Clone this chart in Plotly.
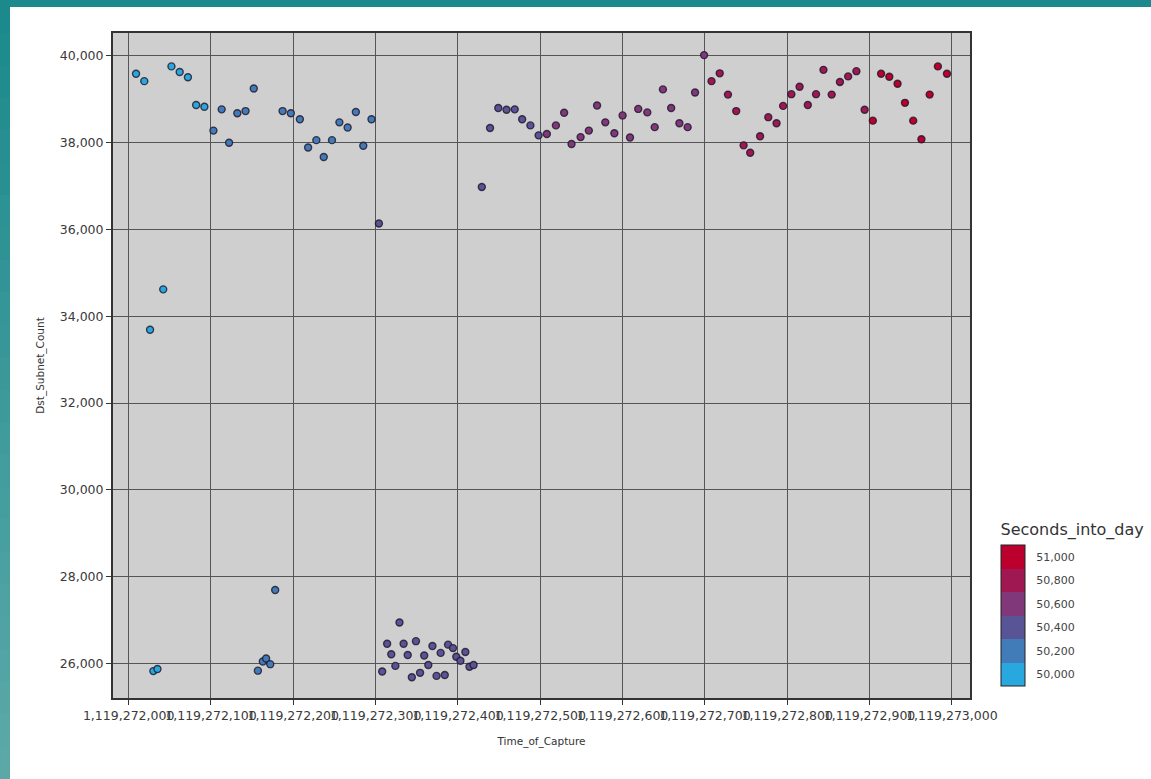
import plotly.graph_objects as go

# ---------------- data ----------------
time_of_capture = [
    1119272009, 1119272019, 1119272026, 1119272030, 1119272035, 1119272042, 1119272052, 1119272062,
    1119272072, 1119272082, 1119272092, 1119272103, 1119272113, 1119272122, 1119272132, 1119272142,
    1119272152, 1119272157, 1119272163, 1119272167, 1119272172, 1119272178, 1119272187, 1119272197,
    1119272208, 1119272218, 1119272228, 1119272237, 1119272247, 1119272256, 1119272266, 1119272276,
    1119272285, 1119272295, 1119272304, 1119272308, 1119272314, 1119272319, 1119272324, 1119272329,
    1119272334, 1119272339, 1119272344, 1119272349, 1119272354, 1119272359, 1119272364, 1119272369,
    1119272374, 1119272379, 1119272384, 1119272388, 1119272394, 1119272398, 1119272403, 1119272409,
    1119272414, 1119272419, 1119272429, 1119272439, 1119272449, 1119272459, 1119272469, 1119272478,
    1119272488, 1119272498, 1119272508, 1119272519, 1119272529, 1119272538, 1119272549, 1119272559,
    1119272569, 1119272579, 1119272590, 1119272600, 1119272609, 1119272619, 1119272630, 1119272639,
    1119272649, 1119272659, 1119272669, 1119272679, 1119272688, 1119272699, 1119272708, 1119272718,
    1119272728, 1119272738, 1119272747, 1119272755, 1119272767, 1119272777, 1119272787, 1119272795,
    1119272805, 1119272815, 1119272825, 1119272835, 1119272844, 1119272854, 1119272864, 1119272874,
    1119272884, 1119272894, 1119272904, 1119272914, 1119272924, 1119272934, 1119272943, 1119272953,
    1119272963, 1119272973, 1119272983, 1119272994,
]

dst_subnet_count = [
    39590, 39420, 33690, 25820, 25870, 34620, 39760, 39630,
    39510, 38870, 38830, 38280, 38770, 38000, 38680, 38730,
    39250, 25830, 26040, 26110, 25980, 27690, 38730, 38680,
    38540, 37890, 38060, 37670, 38060, 38470, 38350, 38710,
    37930, 38540, 36140, 25810, 26450, 26210, 25940, 26940,
    26450, 26190, 25680, 26510, 25780, 26180, 25960, 26400,
    25710, 26240, 25730, 26430, 26350, 26150, 26060, 26260,
    25920, 25960, 36980, 38340, 38800, 38760, 38770, 38540,
    38400, 38170, 38200, 38400, 38690, 37970, 38130, 38280,
    38860, 38470, 38220, 38630, 38120, 38780, 38700, 38360,
    39230, 38800, 38450, 38360, 39160, 40020, 39420, 39600,
    39110, 38730, 37940, 37770, 38150, 38590, 38450, 38850,
    39120, 39290, 38870, 39120, 39680, 39110, 39400, 39530,
    39650, 38760, 38510, 39590, 39520, 39360, 38920, 38510,
    38080, 39110, 39760, 39590,
]

seconds_into_day = [
    50009, 50019, 50026, 50030, 50035, 50042, 50052, 50062,
    50072, 50082, 50092, 50103, 50113, 50122, 50132, 50142,
    50152, 50157, 50163, 50167, 50172, 50178, 50187, 50197,
    50208, 50218, 50228, 50237, 50247, 50256, 50266, 50276,
    50285, 50295, 50304, 50308, 50314, 50319, 50324, 50329,
    50334, 50339, 50344, 50349, 50354, 50359, 50364, 50369,
    50374, 50379, 50384, 50388, 50394, 50398, 50403, 50409,
    50414, 50419, 50429, 50439, 50449, 50459, 50469, 50478,
    50488, 50498, 50508, 50519, 50529, 50538, 50549, 50559,
    50569, 50579, 50590, 50600, 50609, 50619, 50630, 50639,
    50649, 50659, 50669, 50679, 50688, 50699, 50708, 50718,
    50728, 50738, 50747, 50755, 50767, 50777, 50787, 50795,
    50805, 50815, 50825, 50835, 50844, 50854, 50864, 50874,
    50884, 50894, 50904, 50914, 50924, 50934, 50943, 50953,
    50963, 50973, 50983, 50994,
]

x_tick_values = [1119272000 + 100 * i for i in range(11)]
y_tick_values = [26000, 28000, 30000, 32000, 34000, 36000, 38000, 40000]
legend_tick_values = [50000, 50200, 50400, 50600, 50800, 51000]
legend_tick_text = ["50,000", "50,200", "50,400", "50,600", "50,800", "51,000"]

# ---------------- styling ----------------
bin_colors = [
    "rgb(40,168,222)",
    "rgb(66,124,184)",
    "rgb(88,84,150)",
    "rgb(128,56,122)",
    "rgb(160,24,82)",
    "rgb(188,0,46)",
]
n = len(bin_colors)
colorscale = []
for i, c in enumerate(bin_colors):
    colorscale.append([i / n, c])
    colorscale.append([(i + 1) / n, c])

W, H = 1151, 779
L, R, T, B = 113, 181, 33, 81
pw, ph = W - L - R, H - T - B

fig = go.Figure()
fig.add_trace(go.Scatter(
    x=time_of_capture,
    y=dst_subnet_count,
    mode="markers",
    marker=dict(
        size=7,
        color=seconds_into_day,
        colorscale=colorscale,
        cmin=49900,
        cmax=51100,
        line=dict(width=1.4, color="rgba(30,20,40,0.8)"),
        colorbar=dict(
            title=dict(text="Seconds_into_day", side="top",
                       font=dict(family="DejaVu Sans", size=16, color="#333")),
            tickvals=legend_tick_values,
            ticktext=legend_tick_text,
            ticks="outside", ticklen=9, tickcolor="rgba(0,0,0,0)",
            tickfont=dict(family="DejaVu Sans", size=11, color="#444"),
            thickness=24, thicknessmode="pixels",
            len=166, lenmode="pixels",
            x=(1001 - L) / pw, xanchor="left",
            y=(H - B - 686) / ph, yanchor="bottom",
            xpad=0, ypad=0,
            outlinecolor="#222", outlinewidth=1,
            bgcolor="rgba(0,0,0,0)",
        ),
    ),
    showlegend=False,
    hoverinfo="x+y",
))

# teal border strips (left + top) of the original screenshot
shapes = []
steps = 24
for k in range(steps):
    t = k / steps
    r = int(28 + (95 - 28) * t)
    g = int(138 + (170 - 138) * t)
    b = int(140 + (170 - 140) * t)
    y_top_px = H * t
    y_bot_px = H * (k + 1) / steps + 2
    shapes.append(dict(
        type="rect", xref="paper", yref="paper", layer="above",
        x0=-L / pw, x1=(10 - L) / pw,
        y0=(H - B - y_bot_px) / ph, y1=(H - B - y_top_px) / ph,
        fillcolor=f"rgb({r},{g},{b})", line=dict(width=0),
    ))
shapes.append(dict(
    type="rect", xref="paper", yref="paper", layer="above",
    x0=-L / pw, x1=(W - L) / pw,
    y0=(H - B - 7) / ph, y1=(H - B) / ph,
    fillcolor="rgb(28,138,140)", line=dict(width=0),
))

tick_font = dict(family="DejaVu Sans", size=12.5, color="#3a3a3a")

fig.update_layout(
    width=W, height=H,
    margin=dict(l=L, r=R, t=T, b=B, pad=0, autoexpand=False),
    paper_bgcolor="white",
    plot_bgcolor="#cfcfcf",
    shapes=shapes,
    font=dict(family="DejaVu Sans", color="#333"),
    xaxis=dict(
        range=[1119271981, 1119273022],
        tickvals=x_tick_values,
        tickformat=",d",
        tickangle=0,
        tickfont=tick_font,
        ticks="outside", ticklen=5, tickcolor="#333", tickwidth=1,
        showgrid=True, gridcolor="#555555", gridwidth=1,
        showline=True, linecolor="#333333", linewidth=2, mirror=True,
        zeroline=False,
        automargin=False,
        title=dict(text="Time_of_Capture", standoff=16,
                   font=dict(family="DejaVu Sans", size=10.5, color="#333")),
    ),
    yaxis=dict(
        range=[25200, 40530],
        tickvals=y_tick_values,
        tickformat=",d",
        tickfont=tick_font,
        ticks="outside", ticklen=5, tickcolor="#333", tickwidth=1,
        showgrid=True, gridcolor="#555555", gridwidth=1,
        showline=True, linecolor="#333333", linewidth=2, mirror=True,
        zeroline=False,
        automargin=False,
        title=dict(text="Dst_Subnet_Count", standoff=13,
                   font=dict(family="DejaVu Sans", size=10.5, color="#333")),
    ),
)

fig.write_html(
    "out.html",
    config={"displayModeBar": False},
    post_script="document.body.style.margin='0px';document.body.style.overflow='hidden';",
)
